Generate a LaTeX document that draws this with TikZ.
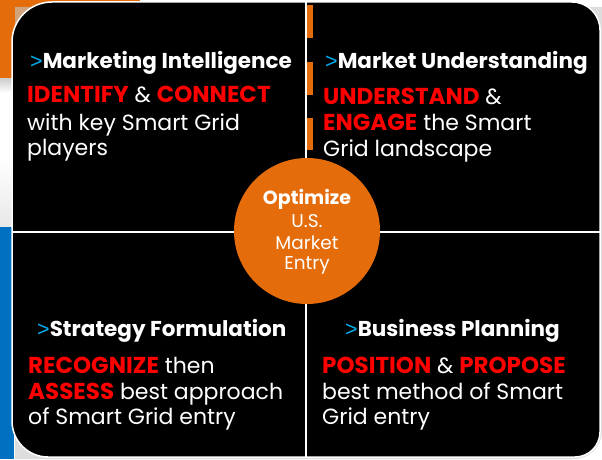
\documentclass[tikz,border=0pt]{standalone}
\usepackage{fontspec}
\setmainfont{Poppins}
\newfontfamily\gtfont{Liberation Sans}
\definecolor{orng}{HTML}{E46C0A}
\definecolor{rd}{HTML}{FF0000}
\definecolor{cy}{HTML}{00B0F0}
\definecolor{bl}{HTML}{0070C0}
\begin{document}
\begin{tikzpicture}[x=1pt,y=1pt,
  hd/.style={anchor=base west, inner sep=0, text=white, font=\bfseries\fontsize{21.5}{21.5}\selectfont},
  bd/.style={anchor=base west, inner sep=0, text=white, font=\fontsize{22}{22}\selectfont},
  ct/.style={anchor=base, inner sep=0, text=white, font=\fontsize{18.5}{18.5}\selectfont}]
\newcommand{\kwd}[1]{{\fontsize{23}{23}\selectfont\bfseries\color{rd}#1}}
\newcommand{\gt}{{\gtfont\mdseries\color{cy}>}}
\useasboundingbox (0,0) rectangle (602,459);
% background strips
\fill[orng] (0,381) rectangle (140,459);
\shade[top color=gray!40, bottom color=white] (0,366) rectangle (14,381);
\shade[top color=white, bottom color=gray!18] (0,232) rectangle (14,300);
\fill[bl] (0,0) rectangle (14,232);
% shadow
\fill[gray!45, opacity=0.6] (15,0) -- (574,0) arc[start angle=270,end angle=360,radius=28] -- (602,452) -- (15,452) -- cycle;
% main black shape
\draw[white, line width=1.5, fill=black]
  (12,38) -- (12,417) arc[start angle=180,end angle=90,radius=40]
  -- (572,457) arc[start angle=90,end angle=0,radius=28]
  -- (600,27) arc[start angle=0,end angle=-90,radius=25]
  -- (48,2) arc[start angle=270,end angle=180,radius=36] -- cycle;
% dividers
\draw[white, line width=2.5] (306,2) -- (306,457);
\draw[white, line width=2.5] (12,227) -- (600,227);
% orange dashes
\fill[orng] (307,421) rectangle (313,454);
\fill[orng] (307,364) rectangle (313,397);
\fill[orng] (307,309) rectangle (313,341);
% hub
\node[circle, fill=orng, minimum size=146, inner sep=0] (hub) at (307,228) {};
\node[ct, font=\bfseries\fontsize{19}{19}\selectfont] (c1) at (307,255) {Optimize};
\node[ct] (c2) at (307,232) {U.S.};
\node[ct] (c3) at (307,210) {Market};
\node[ct] (c4) at (307,190) {Entry};
% Q1
\node[hd] (q1h) at (30,390) {\gt Marketing Intelligence};
\node[bd] (q1a) at (27,356) {\kwd{IDENTIFY} \& \kwd{CONNECT}};
\node[bd] (q1b) at (27,329) {with key Smart Grid};
\node[bd] (q1c) at (27,304) {players};
% Q2
\node[hd] (q2h) at (325,390) {\gt Market Understanding};
\node[bd] (q2a) at (323,355) {\kwd{UNDERSTAND} \&};
\node[bd] (q2b) at (323,329) {\kwd{ENGAGE} the Smart};
\node[bd] (q2c) at (323,303) {Grid landscape};
% Q3
\node[hd] (q3h) at (37,123) {\gt Strategy Formulation};
\node[bd] (q3a) at (28,86) {\kwd{RECOGNIZE} then};
\node[bd] (q3b) at (28,60) {\kwd{ASSESS} best approach};
\node[bd] (q3c) at (28,35) {of Smart Grid entry};
% Q4
\node[hd] (q4h) at (345,123) {\gt Business Planning};
\node[bd] (q4a) at (322,86) {\kwd{POSITION} \& \kwd{PROPOSE}};
\node[bd] (q4b) at (322,60) {best method of Smart};
\node[bd] (q4c) at (322,35) {Grid entry};
\end{tikzpicture}
\end{document}
